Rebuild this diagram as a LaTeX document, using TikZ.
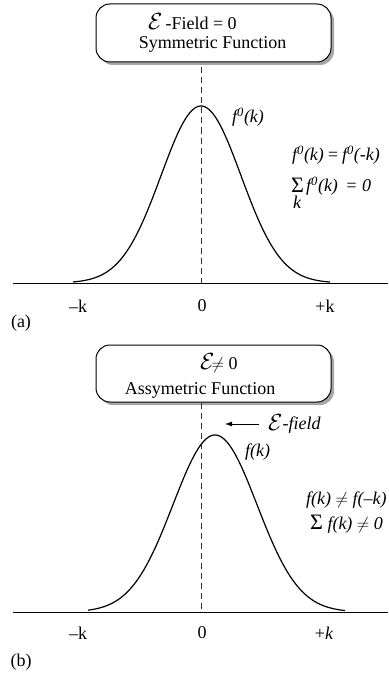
\documentclass[tikz,border=0pt]{standalone}
\usepackage{fontspec}
\setmainfont{Liberation Serif}
\usetikzlibrary{shadows,arrows.meta}
\newcommand{\MyCalE}{\raisebox{-0.5pt}{\scalebox{1.35}{$\mathcal{E}$}}}
\tikzset{
  box/.style={draw, line width=1pt, rounded corners=14pt, fill=white,
    minimum width=235pt, drop shadow={shadow xshift=3pt, shadow yshift=-3pt, fill=black!35, opacity=1}},
  txt/.style={inner sep=0pt, font=\fontsize{18}{20}\selectfont},
  itx/.style={inner sep=0pt, font=\fontsize{18}{20}\selectfont\itshape},
  axis/.style={line width=1pt},
  curve/.style={line width=1.2pt},
  vdash/.style={dashed, dash pattern=on 6pt off 4pt, line width=0.7pt, black!80},
}
\begin{document}
\begin{tikzpicture}[x=1pt,y=-1pt]
\useasboundingbox (0,0) rectangle (388,682);
% ---------- (a) ----------
\node[box, minimum height=58pt] (boxa) at (213.5,33) {};
\node[txt, anchor=west] (la1) at (148,22) {\MyCalE\,-Field = 0};
\node[txt] (la2) at (212.5,44) {Symmetric Function};
\coordinate (axa0) at (13,283);
\coordinate (axa1) at (388,283);
\coordinate (za) at (201,283);
\draw[axis] (axa0) -- (axa1);
\draw[vdash] ([yshift=-5pt]boxa.south -| za) -- (za);
\draw[curve] plot[domain=-128:129, samples=120, smooth] ({201+\x},{283-177*exp(-((\x/40)^2)/2)});
\node[txt] (mka) at (78,306) {\textendash k};
\node[txt] (zra) at (202,306) {0};
\node[txt] (pka) at (325,306) {+k};
\node[txt] (capa) at (21,323) {(a)};
\node[itx, anchor=west] (f0a) at (232,117) {f\textsuperscript{0}(k)};
\node[itx, anchor=west] (eqa) at (292,155) {f\textsuperscript{0}(k)\,=\,f\textsuperscript{0}(-k)};
\node[txt, anchor=west] (siga) at (291,185) {\fontsize{22}{22}\selectfont Σ};
\node[itx] (ka) at (297,202) {k};
\node[itx, anchor=west] (suma) at (306,186) {f\textsuperscript{0}(k) \,= 0};
% ---------- (b) ----------
\node[box, minimum height=57pt] (boxb) at (213.5,373.5) {};
\node[txt, anchor=west] (lb1) at (200,363) {\MyCalE$\!\neq$ 0};
\node[txt] (lb2) at (200,390) {Assymetric Function};
\coordinate (axb0) at (13,612);
\coordinate (axb1) at (388,612);
\coordinate (zb) at (201,612);
\draw[axis] (axb0) -- (axb1);
\draw[vdash] (boxb.south -| zb) -- (zb);
\draw[curve] plot[domain=-127:130, samples=120, smooth] ({215+\x},{612-177*exp(-((\x/42)^2)/2)});
\node[txt] (mkb) at (78,633) {\textendash k};
\node[txt] (zrb) at (202,633) {0};
\node[itx] (pkb) at (324,633) {\upshape+\itshape k};
\node[txt] (capb) at (21,662) {(b)};
\node[itx, anchor=west] (ef) at (268,424) {\MyCalE-field};
\coordinate (arr0) at (259,424);
\coordinate (arr1) at (225,424);
\draw[line width=0.8pt, -{Latex[length=7pt,width=5pt]}] (arr0) -- (arr1);
\node[itx, anchor=west] (fkb) at (245,452) {f(k)};
\node[itx, anchor=west] (eqb) at (306,500) {f(k) $\neq$ f(\textendash k)};
\node[itx, anchor=west] (sumb) at (310,524) {\upshape\fontsize{22}{22}\selectfont Σ\itshape\fontsize{18}{20}\selectfont\ f(k) $\neq$ 0};
\end{tikzpicture}
\end{document}
